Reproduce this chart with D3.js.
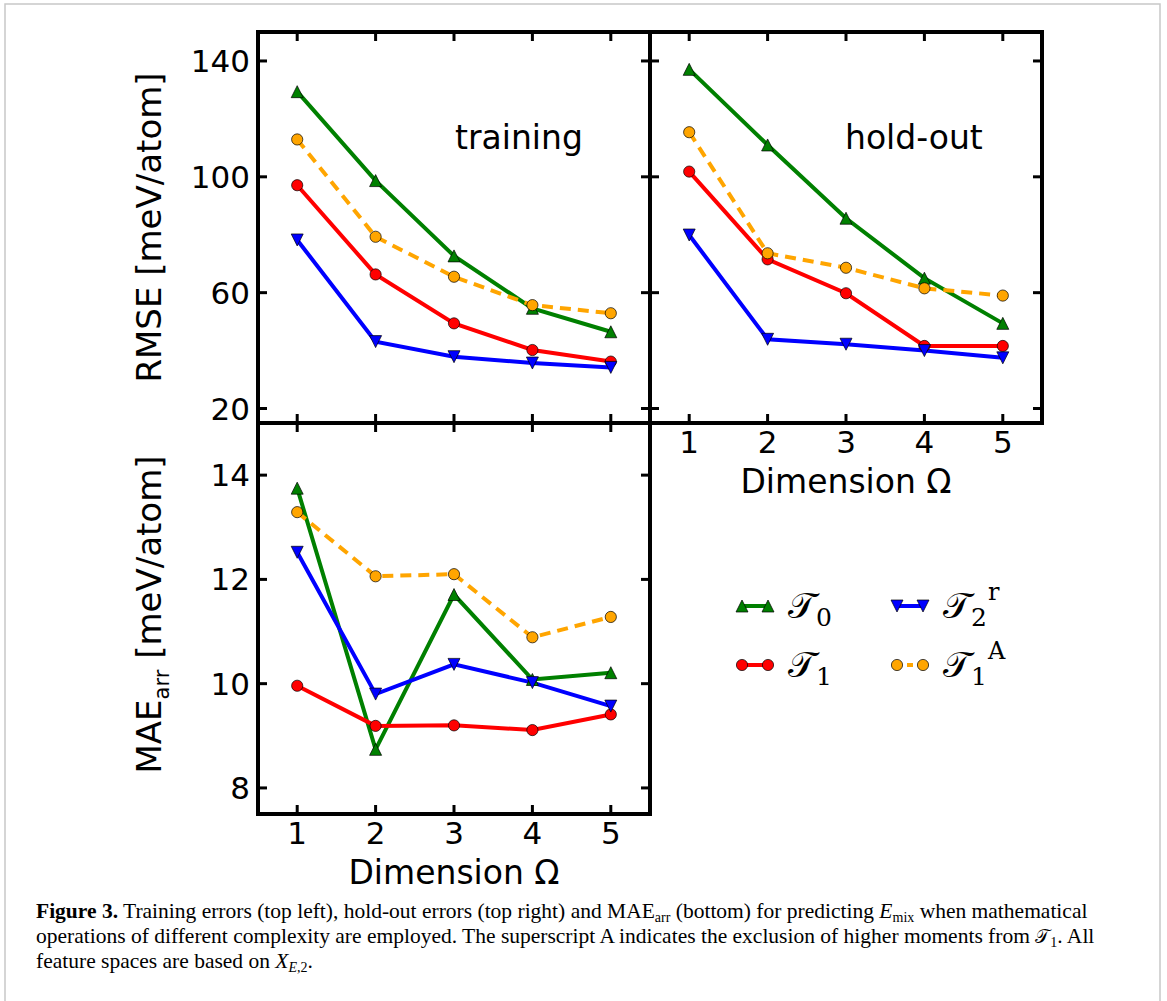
<!DOCTYPE html>
<html>
<head>
<meta charset="utf-8">
<script src="https://cdn.jsdelivr.net/npm/d3@7"></script>
<style>
  body { margin: 0; background: #fff; }
  .sans { font-family: "DejaVu Sans", sans-serif; }
</style>
</head>
<body>
<div id="chart"></div>
<script>
// dimension Omega
const dims = [1, 2, 3, 4, 5];

// training RMSE [meV/atom]
const trainT0 = [129.4, 98.7, 72.7, 54.6, 46.5];
const trainT1 = [97.1, 66.3, 49.4, 40.2, 36.2];
const trainT2r = [78.2, 43.1, 37.9, 35.7, 34.2];
const trainT1A = [112.9, 79.3, 65.5, 55.7, 52.9];

// hold-out RMSE [meV/atom]
const holdT0 = [137.1, 111.0, 85.7, 65.0, 49.4];
const holdT1 = [101.8, 71.5, 59.8, 41.6, 41.6];
const holdT2r = [79.9, 43.9, 42.2, 40.0, 37.5];
const holdT1A = [115.4, 73.6, 68.6, 61.5, 59.0];

// MAE_arr [meV/atom]
const maeT0 = [13.75, 8.74, 11.71, 10.08, 10.21];
const maeT1 = [9.96, 9.19, 9.20, 9.11, 9.41];
const maeT2r = [12.52, 9.80, 10.37, 10.02, 9.57];
const maeT1A = [13.29, 12.06, 12.10, 10.89, 11.28];

const rmseTicks = [20, 60, 100, 140];
const maeTicks = [8, 10, 12, 14];

const W = 1167, H = 1001;
const svg = d3.select('#chart').append('svg')
    .attr('width', W)
    .attr('height', H);

// light page frame
svg.append('path')
    .attr('d', `M5,${H} V4 H1160 V${H}`)
    .attr('fill', 'none')
    .attr('stroke', '#c8c8c8')
    .attr('stroke-width', 1.5);

const pw = 392, ph = 391;
const x0 = 258, y0 = 32;

function seriesFor(a, b, c, d) {
    return [
        { key: 'T0', values: a, color: 'green', marker: 'up', dash: null },
        { key: 'T1', values: b, color: 'red', marker: 'circle', dash: null },
        { key: 'T2r', values: c, color: 'blue', marker: 'down', dash: null },
        { key: 'T1A', values: d, color: 'orange', marker: 'circle', dash: '11,7' }
    ];
}

function markerPath(type) {
    const s = 6;
    if (type === 'up') return `M0,${-s}L${s},${s}L${-s},${s}Z`;
    if (type === 'down') return `M0,${s}L${s},${-s}L${-s},${-s}Z`;
    return null;
}

function drawMarker(g, type, color, x, y) {
    if (type === 'circle') {
        g.append('circle')
            .attr('cx', x).attr('cy', y).attr('r', 5.6)
            .attr('fill', color)
            .attr('stroke', '#000')
            .attr('stroke-width', 0.7);
    } else {
        g.append('path')
            .attr('d', markerPath(type))
            .attr('transform', `translate(${x},${y})`)
            .attr('fill', color)
            .attr('stroke', '#000')
            .attr('stroke-width', 0.7);
    }
}

function drawPanel(opts) {
    const g = svg.append('g')
        .attr('class', 'sans')
        .attr('transform', `translate(${opts.x},${opts.y})`);

    const x = d3.scaleLinear().domain([0.5, 5.5]).range([0, pw]);
    const y = d3.scaleLinear().domain(opts.domain).range([ph, 0]);

    // inner ticks on all four sides
    const tl = 9;
    const ticks = g.append('g').attr('stroke', '#000').attr('stroke-width', 3);
    dims.forEach(d => {
        ticks.append('line').attr('x1', x(d)).attr('x2', x(d)).attr('y1', ph).attr('y2', ph - tl);
        ticks.append('line').attr('x1', x(d)).attr('x2', x(d)).attr('y1', 0).attr('y2', tl);
    });
    opts.yTicks.forEach(t => {
        ticks.append('line').attr('x1', 0).attr('x2', tl).attr('y1', y(t)).attr('y2', y(t));
        ticks.append('line').attr('x1', pw).attr('x2', pw - tl).attr('y1', y(t)).attr('y2', y(t));
    });

    if (opts.xLabels) {
        g.selectAll('.xt')
            .data(dims)
            .enter().append('text')
            .attr('x', d => x(d))
            .attr('y', ph + 30)
            .attr('text-anchor', 'middle')
            .style('font-size', '31px')
            .text(d => d);

        g.append('text')
            .attr('x', pw / 2)
            .attr('y', ph + 70)
            .attr('text-anchor', 'middle')
            .style('font-size', '33px')
            .text('Dimension Ω');
    }

    if (opts.yLabels) {
        g.selectAll('.yt')
            .data(opts.yTicks)
            .enter().append('text')
            .attr('x', -8)
            .attr('y', d => y(d) + 11)
            .attr('text-anchor', 'end')
            .style('font-size', '31px')
            .text(d => d);
    }

    const line = d3.line()
        .x((d, i) => x(dims[i]))
        .y(d => y(d));

    opts.series.forEach(s => {
        g.append('path')
            .datum(s.values)
            .attr('d', line)
            .attr('fill', 'none')
            .attr('stroke', s.color)
            .attr('stroke-width', 4)
            .attr('stroke-dasharray', s.dash);
    });
    opts.series.forEach(s => {
        s.values.forEach((v, i) => drawMarker(g, s.marker, s.color, x(dims[i]), y(v)));
    });

    if (opts.title) {
        g.append('text')
            .attr('x', opts.titleX)
            .attr('y', 117)
            .style('font-size', '33px')
            .text(opts.title);
    }

    // frame
    g.append('rect')
        .attr('width', pw).attr('height', ph)
        .attr('fill', 'none')
        .attr('stroke', '#000')
        .attr('stroke-width', 4);

    return g;
}

drawPanel({
    x: x0, y: y0, domain: [15, 150], yTicks: rmseTicks,
    series: seriesFor(trainT0, trainT1, trainT2r, trainT1A),
    yLabels: true, xLabels: false, title: 'training', titleX: 197
});
drawPanel({
    x: x0 + pw, y: y0, domain: [15, 150], yTicks: rmseTicks,
    series: seriesFor(holdT0, holdT1, holdT2r, holdT1A),
    yLabels: false, xLabels: true, title: 'hold-out', titleX: 195
});
drawPanel({
    x: x0, y: y0 + ph, domain: [7.5, 15], yTicks: maeTicks,
    series: seriesFor(maeT0, maeT1, maeT2r, maeT1A),
    yLabels: true, xLabels: true
});

// y axis titles
svg.append('text')
    .attr('class', 'sans')
    .attr('transform', `translate(161,${y0 + ph / 2}) rotate(-90)`)
    .attr('text-anchor', 'middle')
    .style('font-size', '34px')
    .text('RMSE [meV/atom]');

const maeLabel = svg.append('text')
    .attr('class', 'sans')
    .attr('transform', `translate(161,${y0 + ph + ph / 2 - 4}) rotate(-90)`)
    .attr('text-anchor', 'middle')
    .style('font-size', '34px');
maeLabel.append('tspan').text('MAE');
maeLabel.append('tspan').attr('dy', 8).style('font-size', '21px').text('arr');
maeLabel.append('tspan').attr('dy', -8).text(' [meV/atom]');

// legend
const legendItems = [
    { color: 'green', marker: 'up', dash: null, sub: '0', sup: '', x: 742, y: 606 },
    { color: 'red', marker: 'circle', dash: null, sub: '1', sup: '', x: 742, y: 665 },
    { color: 'blue', marker: 'down', dash: null, sub: '2', sup: 'r', x: 897, y: 606 },
    { color: 'orange', marker: 'circle', dash: '6,10', sub: '1', sup: 'A', x: 897, y: 665 }
];
const legend = svg.append('g')
    .style('font-family', '"DejaVu Serif", serif');
legendItems.forEach(it => {
    legend.append('line')
        .attr('x1', it.x).attr('x2', it.x + 26)
        .attr('y1', it.y).attr('y2', it.y)
        .attr('stroke', it.color)
        .attr('stroke-width', 4)
        .attr('stroke-dasharray', it.dash ? '0,10,6,10' : null);
    drawMarker(legend, it.marker, it.color, it.x, it.y);
    drawMarker(legend, it.marker, it.color, it.x + 26, it.y);

    const base = it.y + 12;
    const t = legend.append('text')
        .attr('x', it.x + 46)
        .attr('y', base)
        .style('font-size', '36px');
    t.append('tspan').text('𝒯');
    t.append('tspan').attr('y', base + 8).style('font-size', '25px').text(it.sub);
    if (it.sup) {
        t.append('tspan').attr('y', base - 18).attr('dx', 1).style('font-size', '24px').text(it.sup);
    }
});

// caption
const cap = svg.append('g')
    .style('font-family', '"Liberation Serif", serif')
    .style('font-size', '21.5px');

const sub = '14px';
const l1 = cap.append('text').attr('x', 36).attr('y', 918);
l1.append('tspan').style('font-weight', 'bold').text('Figure 3.');
l1.append('tspan').text(' Training errors (top left), hold-out errors (top right) and MAE');
l1.append('tspan').attr('y', 922).style('font-size', sub).text('arr');
l1.append('tspan').attr('y', 918).text(' (bottom) for predicting ');
l1.append('tspan').style('font-style', 'italic').text('E');
l1.append('tspan').attr('y', 922).style('font-size', sub).text('mix');
l1.append('tspan').attr('y', 918).text(' when mathematical');

const l2 = cap.append('text').attr('x', 36).attr('y', 943);
l2.append('tspan').text('operations of different complexity are employed. The superscript A indicates the exclusion of higher moments from ');
l2.append('tspan').style('font-family', '"DejaVu Serif", serif').style('font-size', '19px').text('𝒯');
l2.append('tspan').attr('y', 947).style('font-size', sub).text('1');
l2.append('tspan').attr('y', 943).text('. All');

const l3 = cap.append('text').attr('x', 36).attr('y', 968);
l3.append('tspan').text('feature spaces are based on ');
l3.append('tspan').style('font-style', 'italic').text('X');
l3.append('tspan').attr('y', 972).style('font-size', sub).style('font-style', 'italic').text('E');
l3.append('tspan').style('font-size', sub).text(',2');
l3.append('tspan').attr('y', 968).text('.');
</script>
</body>
</html>
